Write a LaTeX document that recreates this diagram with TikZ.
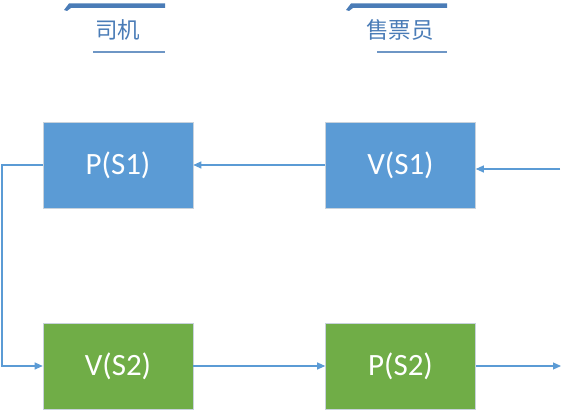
\documentclass[tikz,border=0pt]{standalone}
\usepackage{fontspec}
\setmainfont{Carlito}
\newfontfamily\cjk{Noto Sans CJK SC}
\usetikzlibrary{arrows.meta}
\definecolor{boxblue}{RGB}{91,155,213}
\definecolor{boxgreen}{RGB}{112,173,71}
\definecolor{headblue}{RGB}{74,124,183}
\definecolor{linecol}{RGB}{91,155,213}
\definecolor{edgegray}{RGB}{200,210,220}
\tikzset{
  stepbox/.style={draw=edgegray, line width=0.6pt, minimum width=150pt, minimum height=86pt, inner sep=0pt, text=white, font=\fontsize{31}{34}\selectfont},
  bluebox/.style={stepbox, fill=boxblue},
  greenbox/.style={stepbox, fill=boxgreen},
  conn/.style={draw=linecol, line width=1.1pt, -{Triangle[length=8pt,width=7pt]}},
  headtext/.style={text=headblue, font=\cjk\fontsize{22.5}{25}\selectfont, inner sep=0pt},
  topbar/.style={fill=headblue, draw=none},
  underline/.style={draw=headblue!80, line width=1.4pt},
}
\begin{document}
\begin{tikzpicture}[x=1pt,y=-1pt]
\useasboundingbox (0,0) rectangle (563,419);
% headers
\node[headtext] (h1) at (117.5,30) {司机};
\node[headtext] (h2) at (400,30) {售票员};
\fill[topbar] (64,10) -- (69,3.5) -- (165,3.5) -- (165,8) -- (71,8) -- (67,11) -- cycle;
\fill[topbar] (346,10) -- (351,3.5) -- (447,3.5) -- (447,8) -- (353,8) -- (349,11) -- cycle;
\draw[underline] (93,52) -- (165,52);
\draw[underline] (377,52) -- (447,52);
% boxes
\node[bluebox] (ps1) at (118,165) {P(S1)};
\node[bluebox] (vs1) at (400.5,165) {V(S1)};
\node[greenbox] (vs2) at (118,366) {V(S2)};
\node[greenbox] (ps2) at (400.5,366) {P(S2)};
% connectors
\coordinate (in1) at (560,169);
\coordinate (out1) at (561,366);
\coordinate (c1) at (2,165);
\coordinate (c2) at (2,366);
\draw[conn] (vs1.west) -- (ps1.east);
\draw[conn] (in1) -- (in1 -| vs1.east);
\draw[conn] (ps1.west) -- (c1) -- (c2) -- (vs2.west);
\draw[conn] (vs2.east) -- (ps2.west);
\draw[conn] (ps2.east) -- (out1);
\end{tikzpicture}
\end{document}
